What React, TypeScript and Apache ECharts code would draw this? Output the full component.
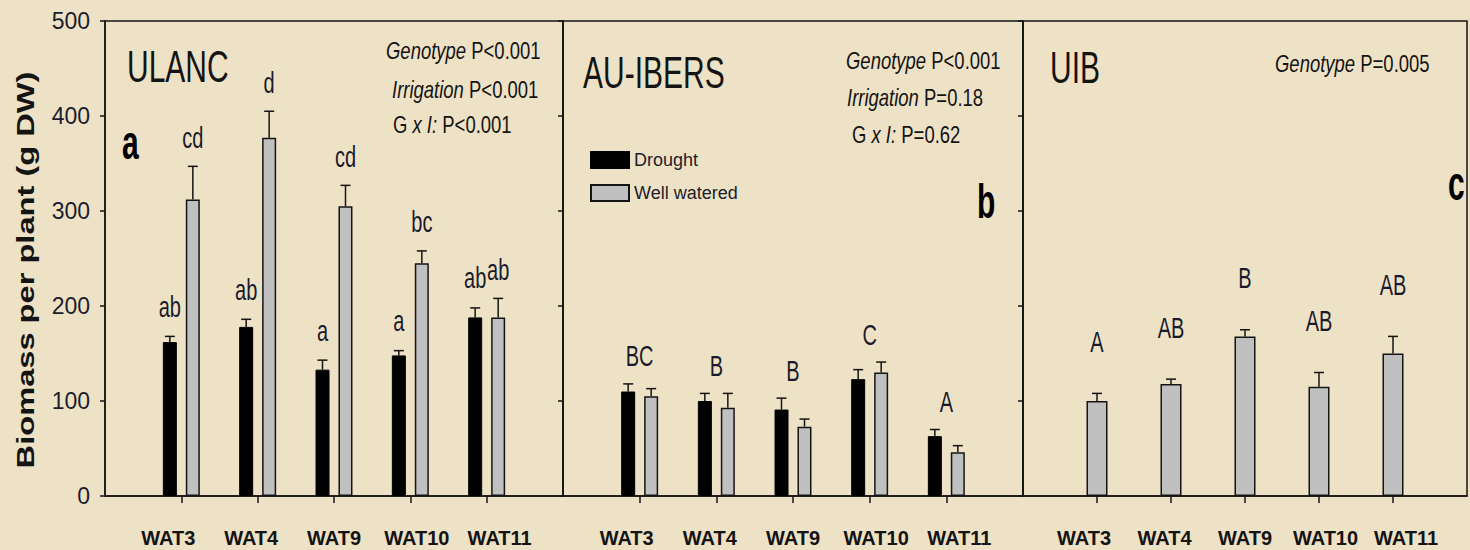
import React, { useEffect, useRef } from "react";
import * as echarts from "echarts";

// ---------- data ----------
const genotypes = ["WAT3", "WAT4", "WAT9", "WAT10", "WAT11"];
const yTicks = [0, 100, 200, 300, 400, 500];

const ulancDrought = [162, 178, 133, 148, 188];
const ulancDroughtSE = [6, 8, 10, 5, 10];
const ulancWatered = [312, 377, 305, 245, 188];
const ulancWateredSE = [35, 28, 22, 13, 20];
const ulancLettersDrought = ["ab", "ab", "a", "a", "ab"];
const ulancLettersWatered = ["cd", "d", "cd", "bc", "ab"];

const ibersDrought = [110, 100, 91, 123, 63];
const ibersDroughtSE = [8, 8, 12, 10, 7];
const ibersWatered = [105, 93, 73, 130, 46];
const ibersWateredSE = [8, 15, 8, 11, 7];
const ibersLetters = ["BC", "B", "B", "C", "A"];

const uibWatered = [100, 118, 168, 115, 150];
const uibWateredSE = [8, 5, 7, 15, 18];
const uibLetters = ["A", "AB", "B", "AB", "AB"];

const seriesNames = ["Drought", "Well watered"];

// ---------- styles ----------
const SANS = "'Liberation Sans', Arial, sans-serif";
const INK = "#141414";
const GREY = "#C0C0C0";
const BG = "#EEE2C6";

const categories = ["", ...genotypes, ""];
const pad = (arr: number[]) => [null, ...arr, null];

const labelShift = [-13, -6.5, 0, 6.5, 13];
const rich: Record<string, any> = {};
labelShift.forEach((s, i) => {
  rich["s" + i] = {
    fontFamily: SANS,
    fontWeight: "bold",
    fontSize: 20,
    color: INK,
    padding: s < 0 ? [0, -2 * s, 0, 0] : [0, 0, 0, 2 * s],
  };
});

function letterText(text: string, x: number, y: number) {
  return {
    type: "text",
    x,
    y,
    scaleY: 1.45,
    style: {
      text,
      x: 0,
      y: 0,
      align: "center",
      verticalAlign: "middle",
      fontFamily: SANS,
      fontSize: 20,
      fill: "#1a1a2a",
    },
  };
}

function errorSeries(
  name: string,
  axis: number,
  tops: number[],
  ses: number[],
  dx: number,
  letters: string[] | null,
  letterOffset: number
) {
  return {
    type: "custom",
    name,
    xAxisIndex: axis,
    yAxisIndex: axis,
    z: 5,
    silent: true,
    data: tops.map((t, i) => [i + 1, t, t + ses[i]]),
    renderItem: (params: any, api: any) => {
      const base = api.coord([api.value(0), api.value(1)]);
      const end = api.coord([api.value(0), api.value(2)]);
      const cx = base[0] + dx;
      const children: any[] = [
        {
          type: "line",
          shape: { x1: cx, y1: base[1], x2: cx, y2: end[1] },
          style: { stroke: INK, lineWidth: 1.5 },
        },
        {
          type: "line",
          shape: { x1: cx - 5, y1: end[1], x2: cx + 5, y2: end[1] },
          style: { stroke: INK, lineWidth: 1.5 },
        },
      ];
      if (letters) children.push(letterText(letters[params.dataIndex], cx, end[1] - letterOffset));
      return { type: "group", children };
    },
  };
}

function pairLetterSeries(axis: number, a: number[], ae: number[], b: number[], be: number[], letters: string[], offset: number) {
  return {
    type: "custom",
    name: "letters-" + axis,
    xAxisIndex: axis,
    yAxisIndex: axis,
    z: 5,
    silent: true,
    data: a.map((v, i) => [i + 1, Math.max(v + ae[i], b[i] + be[i])]),
    renderItem: (params: any, api: any) => {
      const p = api.coord([api.value(0), api.value(1)]);
      return letterText(letters[params.dataIndex], p[0], p[1] - offset);
    },
  };
}

const grids = [
  { left: 105, top: 21, width: 458, height: 475 },
  { left: 563, top: 21, width: 460, height: 475 },
  { left: 1023, top: 21, width: 459, height: 475 },
].map((g) => ({ ...g, show: true, borderColor: INK, borderWidth: 1.5, backgroundColor: "transparent", containLabel: false }));

const xAxes = [0, 1, 2].map((i) => ({
  type: "category",
  gridIndex: i,
  data: categories,
  boundaryGap: false,
  axisLine: { lineStyle: { color: INK, width: 1.5 } },
  axisTick: {
    show: true,
    length: 7,
    interval: (idx: number) => idx > 0 && idx < categories.length - 1,
    lineStyle: { color: INK, width: 1.5 },
  },
  axisLabel: {
    interval: 0,
    margin: 32,
    formatter: (value: string, index: number) => (value ? `{s${index - 1}|${value}}` : ""),
    rich,
  },
  splitLine: { show: false },
}));

const yAxes = [0, 1, 2].map((i) => ({
  type: "value",
  gridIndex: i,
  min: yTicks[0],
  max: yTicks[yTicks.length - 1],
  interval: yTicks[1] - yTicks[0],
  axisLine: { show: true, lineStyle: { color: INK, width: 1.5 } },
  axisTick: { show: true, length: 5, lineStyle: { color: INK, width: 1.5 } },
  axisLabel: {
    show: i === 0,
    margin: 15,
    fontFamily: SANS,
    fontSize: 23,
    color: "#1c1c2c",
  },
  splitLine: { show: false },
}));

const droughtStyle = { color: "#000", borderColor: "#000", borderWidth: 1 };
const wateredStyle = { color: GREY, borderColor: INK, borderWidth: 1.5 };

const statFont = { fontFamily: SANS, fontSize: 22, fill: INK };
const richItalic = { i: { fontFamily: SANS, fontSize: 22, fontStyle: "italic", fill: INK } };

function statText(text: string, x: number, y: number) {
  return {
    type: "text",
    x,
    y,
    scaleX: 0.84,
    scaleY: 1.11,
    style: { text, ...statFont, rich: richItalic, verticalAlign: "middle", align: "left" },
  };
}

function titleText(text: string, x: number, y: number) {
  return {
    type: "text",
    x,
    y,
    scaleY: 1.5,
    style: { text, fontFamily: SANS, fontSize: 30, fill: INK, verticalAlign: "middle", align: "left" },
  };
}

function panelLetter(text: string, x: number, y: number) {
  return {
    type: "text",
    x,
    y,
    scaleY: 1.6,
    style: { text, fontFamily: SANS, fontWeight: "bold", fontSize: 30, fill: "#000", verticalAlign: "middle", align: "left" },
  };
}

const option: any = {
  animation: false,
  backgroundColor: BG,
  grid: grids,
  xAxis: xAxes,
  yAxis: yAxes,
  legend: {
    data: seriesNames,
    orient: "vertical",
    left: 585,
    top: 146,
    itemWidth: 38,
    itemHeight: 16,
    itemGap: 15,
    icon: "rect",
    textStyle: { fontFamily: SANS, fontSize: 18, color: "#1c1c2c", lineHeight: 16 },
  },
  graphic: [
    {
      type: "text",
      x: 26,
      y: 270,
      rotation: Math.PI / 2,
      scaleX: 1.36,
      style: {
        text: "Biomass per plant (g DW)",
        fontFamily: SANS,
        fontWeight: "bold",
        fontSize: 24,
        fill: INK,
        align: "center",
        verticalAlign: "middle",
      },
    },
    titleText("ULANC", 127, 66),
    titleText("AU-IBERS", 583, 72),
    titleText("UIB", 1050, 67),
    statText("{i|Genotype} P<0.001", 386, 51),
    statText("{i|Irrigation} P<0.001", 392, 90),
    statText("G {i|x I:} P<0.001", 393, 125),
    statText("{i|Genotype} P<0.001", 846, 61),
    statText("{i|Irrigation} P=0.18", 847, 98),
    statText("G {i|x I:} P=0.62", 852, 135),
    statText("{i|Genotype} P=0.005", 1275, 64),
    panelLetter("a", 122, 142),
    panelLetter("b", 977, 201),
    panelLetter("c", 1448, 183),
  ],
  series: [
    { type: "bar", name: seriesNames[0], xAxisIndex: 0, yAxisIndex: 0, data: pad(ulancDrought), barWidth: 14, barGap: "64%", itemStyle: droughtStyle },
    { type: "bar", name: seriesNames[1], xAxisIndex: 0, yAxisIndex: 0, data: pad(ulancWatered), barWidth: 14, barGap: "64%", itemStyle: wateredStyle },
    errorSeries("ULANC drought SE", 0, ulancDrought, ulancDroughtSE, -11.5, ulancLettersDrought, 30),
    errorSeries("ULANC watered SE", 0, ulancWatered, ulancWateredSE, 11.5, ulancLettersWatered, 29),

    { type: "bar", name: seriesNames[0], xAxisIndex: 1, yAxisIndex: 1, data: pad(ibersDrought), barWidth: 14, barGap: "64%", itemStyle: droughtStyle },
    { type: "bar", name: seriesNames[1], xAxisIndex: 1, yAxisIndex: 1, data: pad(ibersWatered), barWidth: 14, barGap: "64%", itemStyle: wateredStyle },
    errorSeries("AU-IBERS drought SE", 1, ibersDrought, ibersDroughtSE, -11.5, null, 0),
    errorSeries("AU-IBERS watered SE", 1, ibersWatered, ibersWateredSE, 11.5, null, 0),
    pairLetterSeries(1, ibersDrought, ibersDroughtSE, ibersWatered, ibersWateredSE, ibersLetters, 28),

    { type: "bar", name: seriesNames[1], xAxisIndex: 2, yAxisIndex: 2, data: pad(uibWatered), barWidth: 21, itemStyle: wateredStyle },
    errorSeries("UIB watered SE", 2, uibWatered, uibWateredSE, 0, uibLetters, 52),
  ],
};

export default function App() {
  const ref = useRef<HTMLDivElement>(null);
  useEffect(() => {
    if (!ref.current) return;
    const chart = echarts.init(ref.current, undefined, { renderer: "svg" });
    chart.setOption(option);
    return () => chart.dispose();
  }, []);
  return <div ref={ref} style={{ position: "fixed", left: 0, top: 0, width: 1470, height: 550 }} />;
}
